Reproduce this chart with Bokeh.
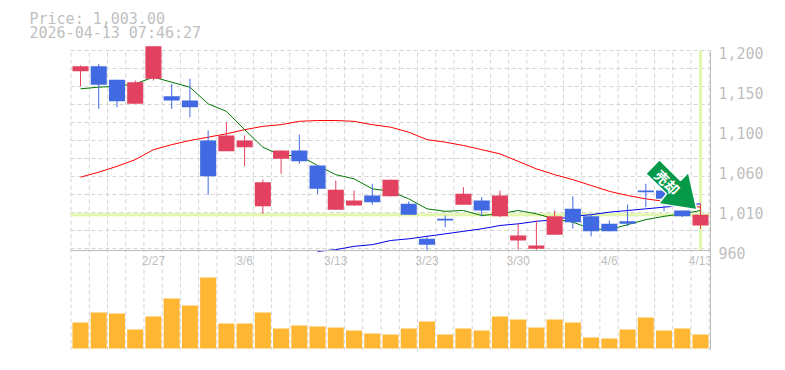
from bokeh.embed import file_html
from bokeh.resources import INLINE
from bokeh.plotting import figure
from bokeh.models import (ColumnDataSource, Range1d, LinearAxis, FixedTicker)
from bokeh.core.properties import value

nan = float("nan")
title_lines = ["Price: 1,003.00", "2026-04-13 07:46:27"]
date_ticks = {4: "2/27", 9: "3/6", 14: "3/13", 19: "3/23", 24: "3/30", 29: "4/6", 34: "4/13"}
price_ticks = {1200: "1,200", 1152: "1,150", 1104: "1,100", 1056: "1,060", 1008: "1,010", 960: "960"}

opens = [1175,1181,1165,1136,1166,1145,1140,1092,1079,1084,1013,1070,1080,1062,1009,1014,1026,1025,1016,974,998,1015,1020,1001,972,962,979,1010,1001,992,995,1032,1032,1008,990]
highs = [1182,1184,1165,1164,1205,1160,1166,1104,1114,1098,1045,1080,1099,1062,1044,1032,1040,1045,1019,978,1002,1036,1024,1032,992,996,1008,1025,1004,996,1015,1040,1035,1008,1016]
lows  = [1157,1130,1132,1136,1164,1130,1120,1027,1079,1061,1004,1052,1064,1028,1009,1014,1015,1025,1003,959,988,1015,1001,1000,961,960,979,986,977,983,989,1012,1007,1000,986]
closes= [1181,1159,1139,1162,1205,1140,1132,1049,1098,1092,1042,1080,1067,1034,1033,1020,1018,1045,1003,967,996,1028,1008,1026,978,966,1001,994,983,983,992,1030,1022,1001,1003]

ma_short = [1154,1156,1157,1160,1168,1162,1156,1136,1127,1105,1084,1074,1074,1062,1051,1046,1034,1031,1022,1010,1007,1008,1002,1004,1008,1004,998,994,986,985,991,997,1001,1004,1008]
ma_mid   = [1048,1054,1061,1069,1081,1087,1092,1096,1100,1105,1109,1111,1115,1116,1116,1115,1111,1108,1102,1093,1090,1086,1081,1076,1067,1058,1051,1045,1038,1031,1026,1022,1019,1015,1012]
ma_long  = [nan]*13 + [959,961,965,967,972,974,977,980,983,986,990,992,995,997,1001,1003,1006,1008,1010,1012,1014,1016]
volume   = [26,36,35,19,32,50,43,71,25,25,36,20,23,22,21,18,15,14,20,27,14,20,18,32,29,21,29,26,11,10,19,31,18,20,14]

idx = list(range(35))
GREEN, RED, BLUE, PALE = "#007700", "#ff0000", "#0000e6", "#e3f6ad"
UP, DOWN, BAR = "#e2425f", "#4169e1", "#ffb733"
TXT, GRID, AXIS = "#bfbfbf", "#d4d4d4", "#bbbbbb"
MONO = "DejaVu Sans Mono"
X0, X1 = -0.548, 34.548

p = figure(frame_width=710, frame_height=350, width=785, height=370, output_backend="svg",
           toolbar_location=None, x_range=Range1d(-4.387, X1), y_range=Range1d(840, 1260),
           min_border_left=0, min_border_top=0, min_border_right=0, min_border_bottom=0,
           outline_line_color=None, background_fill_color="white", x_axis_location=None, y_axis_location=None)
p.grid.visible = False
p.extra_y_ranges = {"vol": Range1d(-2, 348), "lab": Range1d(842.4, 1262.4)}

# grid
gx = [i - 0.52 for i in range(36)]
gy = [1200 - 21.6 * i for i in range(12)]
p.segment(x0=gx, x1=gx, y0=[840] * 36, y1=[1200] * 36, line_color=GRID, line_dash="4 3", line_width=1)
p.segment(x0=[X0] * 12, x1=[X1] * 12, y0=gy, y1=gy, line_color=GRID, line_dash="4 3", line_width=1)

# current price / last date markers
p.line([X0, X1], [closes[-1], closes[-1]], line_color=PALE, line_width=3)
p.line([idx[-1], idx[-1]], [960, 1200], line_color=PALE, line_width=3)

# moving averages
p.line(idx, ma_long, line_color=BLUE, line_width=1)
p.line(idx, ma_mid, line_color=RED, line_width=1)
p.line(idx, ma_short, line_color=GREEN, line_width=1)

# candles
colors = [UP if c > o else DOWN for o, c in zip(opens, closes)]
src = ColumnDataSource(dict(x=idx, o=opens, h=highs, l=lows, c=closes, col=colors))
p.segment("x", "h", "x", "l", source=src, line_color="col", line_width=1)
p.vbar("x", 0.88, "o", "c", source=src, fill_color="col", line_color=None)

# volume
p.vbar(idx, 0.88, 0, volume, y_range_name="vol", fill_color=BAR, line_color=None)

# signal arrow, in axis units
ax = [31.0, 31.75, 32.9, 33.34, 33.8, 31.7, 32.14]
ay = [1052, 1069, 1044, 1054, 1009, 1016, 1028]
p.patch(ax, ay, fill_color="#07994a", line_color="white", line_width=1.5)
p.text([32.19], [1042], text=["売却"], angle=-0.785, text_color="white", text_font=value("Noto Sans CJK JP"),
       text_font_style="bold", text_font_size="14px", text_align="center", text_baseline="middle")

# header
p.text([-2.797, -2.797], [1238.4, 1221.6], text=title_lines, text_color=TXT, text_font=value(MONO),
       text_font_size="15px", text_align="left", text_baseline="middle")

# axes
xa = LinearAxis(ticker=FixedTicker(ticks=list(date_ticks)), major_label_overrides=date_ticks, fixed_location=960,
                bounds=(X0, X1))
xa.major_tick_line_color = None
xa.minor_tick_line_color = None
xa.axis_line_color = AXIS
xa.major_label_text_color = TXT
xa.major_label_text_font = "Liberation Sans"
xa.major_label_text_font_size = "12px"
xa.major_label_standoff = -3
p.add_layout(xa, "below")

xb = LinearAxis(ticker=FixedTicker(ticks=[]), axis_line_color=AXIS, major_tick_line_color=None, bounds=(X0, X1),
                minor_tick_line_color=None, major_label_text_font_size="0px", major_label_standoff=0)
p.add_layout(xb, "below")

ya = LinearAxis(y_range_name="lab", ticker=FixedTicker(ticks=list(price_ticks)), major_label_overrides=price_ticks,
                bounds=(842.4, 1202.4), axis_line_color=AXIS, major_tick_line_color=None, minor_tick_line_color=None,
                major_label_text_color=TXT, major_label_text_font=MONO, major_label_text_font_size="15px",
                major_label_standoff=2)
p.add_layout(ya, "right")

open("out.html", "w").write(file_html(p, INLINE))
